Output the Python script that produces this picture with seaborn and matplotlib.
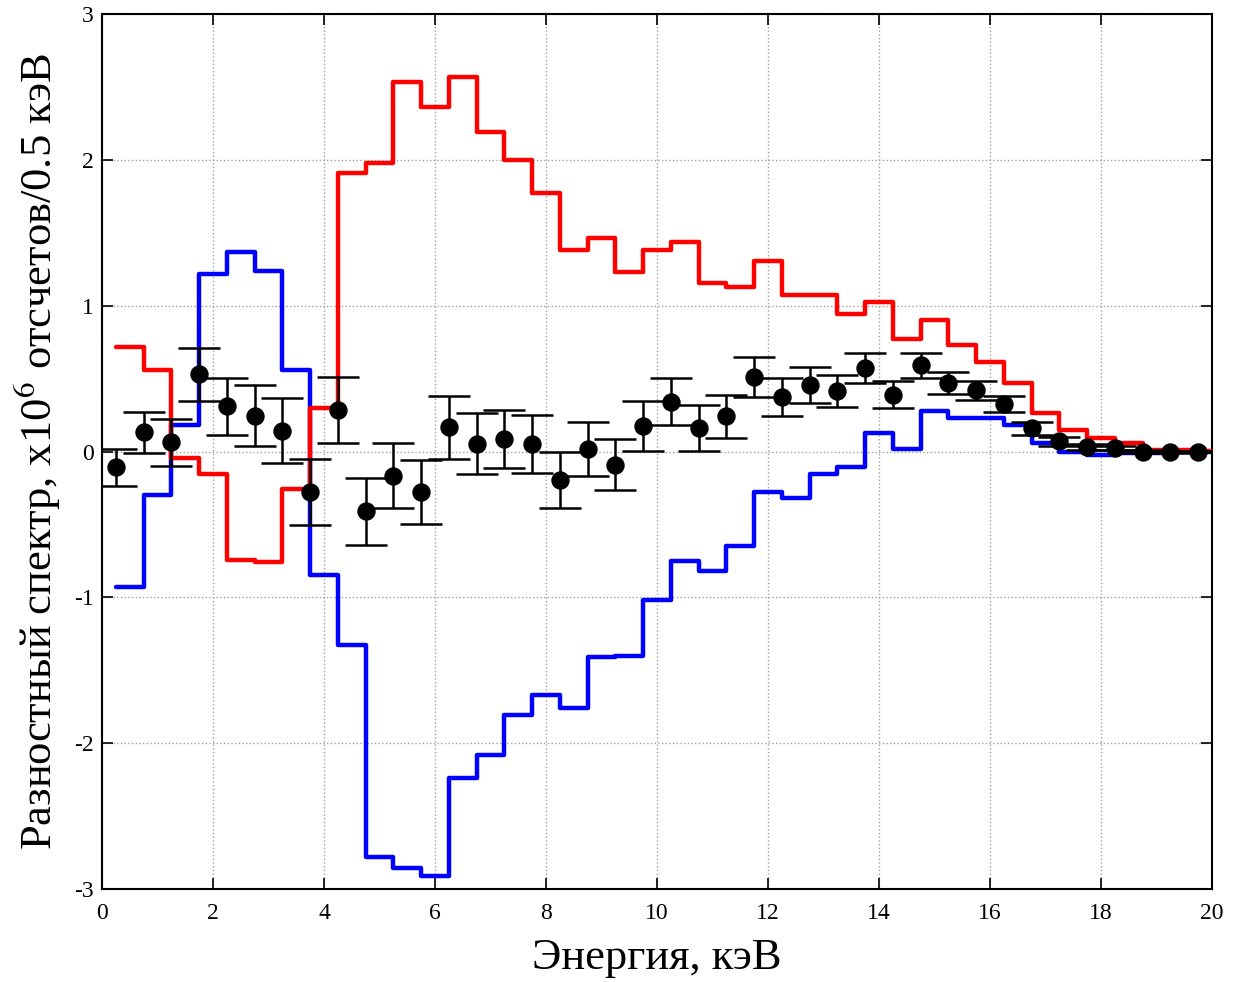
import numpy as np
import pandas as pd
import seaborn as sns
import matplotlib.pyplot as plt

# bin centres, keV
energy = np.arange(0.25, 20.0, 0.5)

# measured difference spectrum with errors
points = [-0.108, 0.133, 0.064, 0.529, 0.311, 0.247, 0.144, -0.275, 0.286, -0.41,
          -0.165, -0.275, 0.167, 0.055, 0.087, 0.053, -0.195, 0.018, -0.092, 0.174,
          0.343, 0.16, 0.243, 0.51, 0.373, 0.458, 0.414, 0.572, 0.39, 0.59,
          0.47, 0.42, 0.323, 0.158, 0.071, 0.03, 0.025, 0.0, -0.005, 0.0]
errors = [0.125, 0.14, 0.16, 0.18, 0.195, 0.21, 0.22, 0.226, 0.228, 0.23,
          0.223, 0.22, 0.215, 0.21, 0.2, 0.2, 0.19, 0.185, 0.175, 0.172,
          0.163, 0.157, 0.148, 0.138, 0.131, 0.123, 0.112, 0.103, 0.092, 0.083,
          0.075, 0.065, 0.055, 0.042, 0.03, 0.02, 0.015, 0.01, 0.006, 0.004]

# model curves
red_curve = [0.72, 0.56, -0.046, -0.153, -0.745, -0.755, -0.26, 0.298, 1.907, 1.976,
             2.537, 2.365, 2.567, 2.189, 1.999, 1.774, 1.383, 1.466, 1.231, 1.38,
             1.437, 1.154, 1.13, 1.305, 1.071, 1.071, 0.945, 1.026, 0.77, 0.90,
             0.728, 0.614, 0.472, 0.266, 0.15, 0.094, 0.06, 0.011, 0.008, 0.005]
blue_curve = [-0.93, -0.30, 0.18, 1.22, 1.37, 1.24, 0.556, -0.85, -1.33, -2.78,
              -2.855, -2.91, -2.24, -2.08, -1.81, -1.67, -1.76, -1.41, -1.40, -1.02,
              -0.75, -0.82, -0.646, -0.28, -0.32, -0.153, -0.105, 0.126, 0.018, 0.28,
              0.23, 0.228, 0.18, 0.06, 0.0, -0.027, -0.01, -0.008, -0.005, -0.003]

x_ticks = list(range(0, 21, 2))
y_ticks = [-3, -2, -1, 0, 1, 2, 3]

sns.set_theme(style="ticks")
plt.rcParams["font.family"] = ["Liberation Serif", "DejaVu Serif"]
plt.rcParams["mathtext.fontset"] = "stix"
plt.rcParams["axes.unicode_minus"] = False

# stairs run up to the right edge of the last bin
edge = energy[-1] + 0.25
stairs = pd.DataFrame({
    "x": np.append(energy, edge),
    "red": np.append(red_curve, red_curve[-1]),
    "blue": np.append(blue_curve, blue_curve[-1]),
})

fig = plt.figure(figsize=(12.37, 9.82), dpi=100)
ax = fig.add_axes([0.0825, 0.0947, 0.8973, 0.891])

sns.lineplot(data=stairs, x="x", y="blue", color="#0000ff", lw=3.2,
             drawstyle="steps-post", ax=ax, zorder=2)
sns.lineplot(data=stairs, x="x", y="red", color="#ff0000", lw=3.2,
             drawstyle="steps-post", ax=ax, zorder=3)

ax.errorbar(energy, points, yerr=errors, fmt="none", ecolor="black",
            elinewidth=1.8, capsize=15, capthick=1.8, zorder=4)
sns.scatterplot(x=energy, y=points, color="black", s=150, edgecolor="black",
                ax=ax, zorder=5)

ax.set_xlim(0, 20)
ax.set_ylim(-3, 3)
ax.set_xticks(x_ticks)
ax.set_yticks(y_ticks)
ax.grid(True, linestyle=":", color="#a0a0a0", linewidth=1)
ax.tick_params(direction="in", length=8, width=1.2, top=True, right=True,
               labelsize=17, colors="black")
ax.tick_params(axis="x", pad=10)
ax.tick_params(axis="y", pad=6)
for s in ax.spines.values():
    s.set_color("black")
    s.set_linewidth(1.5)

ax.set_xlabel("Энергия, кэВ", fontsize=32, labelpad=10, color="black")
ax.set_ylabel("Разностный спектр, x10$^6$ отсчетов/0.5 кэВ", fontsize=32,
              labelpad=8, color="black")

fig.savefig("out.png", dpi=100)
